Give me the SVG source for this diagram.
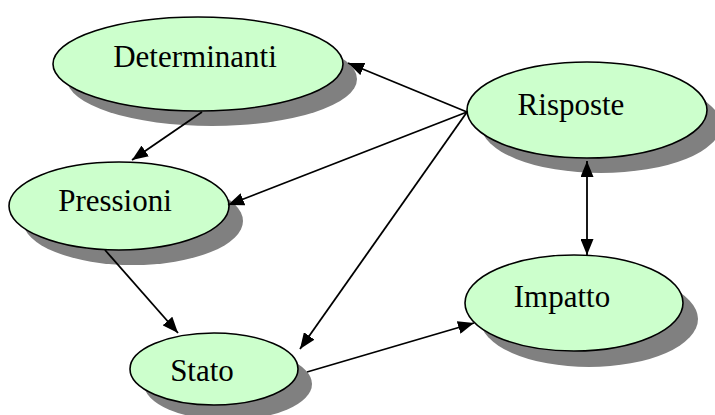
<svg xmlns="http://www.w3.org/2000/svg" width="715" height="415" viewBox="0 0 715 415">
<style>
.sh{fill:#808080;stroke:none}
.nd{fill:#CCFFCC;stroke:#000;stroke-width:1.6}
.lb{font-family:"Liberation Serif","Times New Roman",serif;font-size:31px;fill:#000;text-anchor:middle}
.cn line{stroke:#000;stroke-width:1.8;marker-end:url(#ah)}
</style>
<defs>
<marker id="ah" markerUnits="userSpaceOnUse" markerWidth="16" markerHeight="13" refX="16" refY="6.5" orient="auto-start-reverse">
<path d="M0,0 L16,6.5 L0,13 z" fill="#000"/>
</marker>
</defs>
<rect width="715" height="415" fill="#fff"/>
<g id="determinanti">
<ellipse class="sh" cx="212" cy="79" rx="145" ry="47"/>
<ellipse class="nd" cx="198" cy="64" rx="145" ry="47"/>
<text class="lb" x="195" y="67">Determinanti</text>
</g>
<g id="risposte">
<ellipse class="sh" cx="601" cy="125" rx="120" ry="48"/>
<ellipse class="nd" cx="587" cy="110" rx="120" ry="48"/>
<text class="lb" x="571" y="115">Risposte</text>
</g>
<g id="pressioni">
<ellipse class="sh" cx="133" cy="221" rx="110" ry="44"/>
<ellipse class="nd" cx="119" cy="206" rx="110" ry="44"/>
<text class="lb" x="115" y="211">Pressioni</text>
</g>
<g id="stato">
<ellipse class="sh" cx="228" cy="384" rx="84" ry="36"/>
<ellipse class="nd" cx="214" cy="369" rx="84" ry="36"/>
<text class="lb" x="202" y="381">Stato</text>
</g>
<g id="impatto">
<ellipse class="sh" cx="589" cy="319" rx="109" ry="48"/>
<ellipse class="nd" cx="574" cy="303" rx="109" ry="48"/>
<text class="lb" x="562" y="307">Impatto</text>
</g>
<g id="connectors" class="cn">
<line x1="467" y1="112" x2="348" y2="63"/>
<line x1="467" y1="112" x2="228" y2="205"/>
<line x1="467" y1="112" x2="300" y2="349"/>
<line x1="202" y1="112" x2="132" y2="160"/>
<line x1="105" y1="250" x2="178" y2="333"/>
<line x1="307" y1="372" x2="474" y2="323"/>
<line x1="587" y1="161" x2="587" y2="255" style="marker-start:url(#ah)"/>
</g>
</svg>
